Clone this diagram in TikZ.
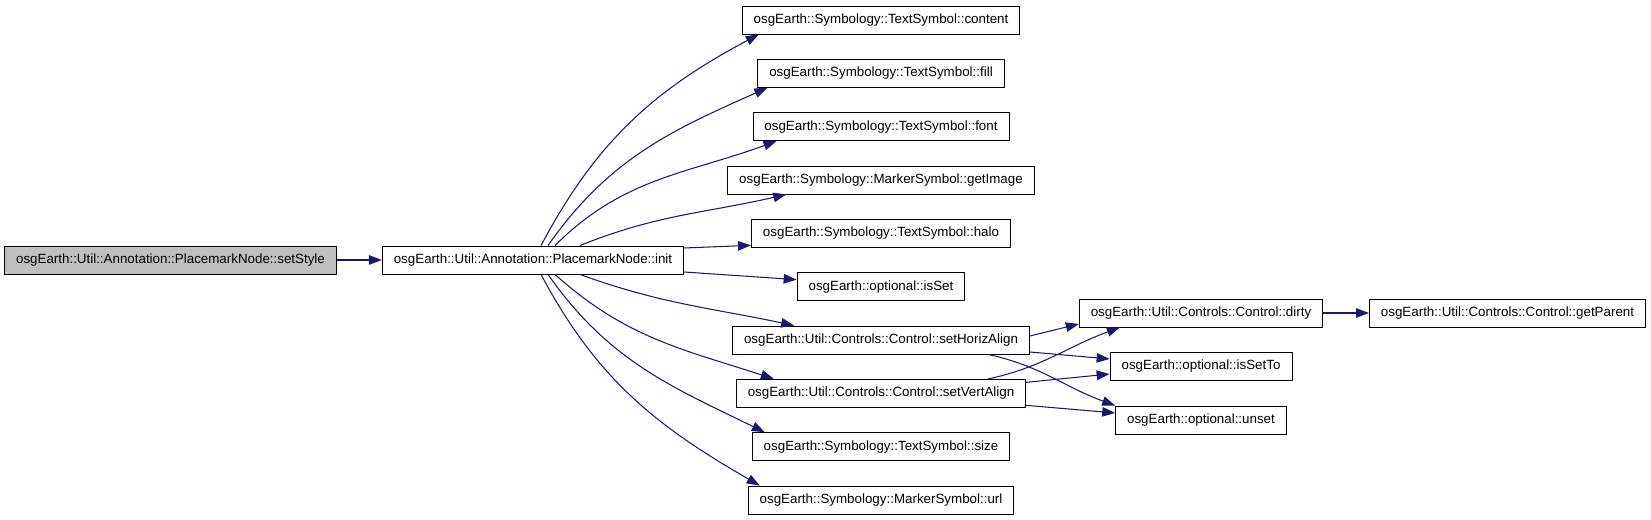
\documentclass[tikz,border=0pt]{standalone}
\usepackage{fontspec}
\setmainfont{Liberation Sans}
\usetikzlibrary{arrows.meta, positioning, calc}
\definecolor{edgeblue}{HTML}{191970}
\definecolor{callergray}{HTML}{BFBFBF}

\begin{document}
\begin{tikzpicture}[>={Triangle[length=2.6mm, width=1.9mm]},
    fn/.style={draw, line width=0.5pt, minimum height=0.56cm, inner xsep=0.23cm,
               inner ysep=0pt, font=\fontsize{7.6}{9}\selectfont},
    edge/.style={->, draw=edgeblue, line width=0.6pt}]
  \useasboundingbox (0,0) rectangle (33.02,10.4);

  % Caller and init
  \node[fn, fill=callergray] (setstyle) at (3.41, 5.2)
    {osgEarth::Util::Annotation::PlacemarkNode::setStyle};
  \node[fn] (init) at (10.66, 5.2) {osgEarth::Util::Annotation::PlacemarkNode::init};

  % Callees of init (one column)
  \foreach \n/\t [count=\k from 0] in {
      content/{osgEarth::Symbology::TextSymbol::content},
      fillsym/{osgEarth::Symbology::TextSymbol::fill},
      fontsym/{osgEarth::Symbology::TextSymbol::font},
      getimage/{osgEarth::Symbology::MarkerSymbol::getImage},
      halo/{osgEarth::Symbology::TextSymbol::halo},
      isset/{osgEarth::optional::isSet},
      horiz/{osgEarth::Util::Controls::Control::setHorizAlign},
      vert/{osgEarth::Util::Controls::Control::setVertAlign},
      sizesym/{osgEarth::Symbology::TextSymbol::size},
      urlsym/{osgEarth::Symbology::MarkerSymbol::url}} {
    \node[fn] (\n) at (17.62, 10.0-\k*1.0667) {\t};
  }

  % Second level
  \node[fn] (dirty) at (24.02, 4.14) {osgEarth::Util::Controls::Control::dirty};
  \node[fn] (getparent) at (30.15, 4.14) {osgEarth::Util::Controls::Control::getParent};
  \node[fn] (issetto) at (24.02, 3.07) {osgEarth::optional::isSetTo};
  \node[fn] (unset) at (24.02, 2.00) {osgEarth::optional::unset};

  \draw[edge] (setstyle) -- (init);

  % init -> upper callees
  \draw[edge] ($(init.north)+(0.16,0)$) to[out=62, in=208]
    ($(content.south west)+(0.34,0)$);
  \draw[edge] ($(init.north)+(0.30,0)$) to[out=55, in=204]
    ($(fillsym.south west)+(0.20,0)$);
  \draw[edge] ($(init.north)+(0.44,0)$) to[out=45, in=200]
    ($(fontsym.south west)+(0.48,0)$);
  \draw[edge] ($(init.north)+(0.94,0)$) to[out=22, in=193]
    ($(getimage.south west)+(1.18,0)$);
  \draw[edge] ($(init.east)+(0,0.24)$) -- ($(halo.west)+(0,-0.24)$);
  \draw[edge] ($(init.east)+(0,-0.24)$) -- ($(isset.west)+(0,0.14)$);

  % init -> lower callees
  \draw[edge] ($(init.south)+(0.94,0)$) to[out=-20, in=168]
    ($(horiz.north west)+(1.24,0)$);
  \draw[edge] ($(init.south)+(0.44,0)$) to[out=-42, in=162]
    ($(vert.north west)+(0.76,0)$);
  \draw[edge] ($(init.south)+(0.30,0)$) to[out=-55, in=154]
    ($(sizesym.north west)+(0.26,0)$);
  \draw[edge] ($(init.south)+(0.16,0)$) to[out=-62, in=150]
    ($(urlsym.north west)+(0.24,0)$);

  % Align setters
  \draw[edge] ($(horiz.east)+(0,0.08)$) -- ($(dirty.west)+(0,-0.22)$);
  \draw[edge] ($(horiz.east)+(0,-0.24)$) -- ($(issetto.west)+(0,0.15)$);
  \draw[edge] ($(horiz.south east)+(-0.84,0)$) to[out=-12, in=160] (unset.north west);
  \draw[edge] ($(vert.north east)+(-0.76,0)$) to[out=12, in=200]
    ($(dirty.south west)+(0.82,0)$);
  \draw[edge] ($(vert.east)+(0,0.22)$) -- ($(issetto.west)+(0,-0.15)$);
  \draw[edge] ($(vert.east)+(0,-0.24)$) -- ($(unset.west)+(0,0.14)$);

  \draw[edge] (dirty) -- (getparent);
\end{tikzpicture}
\end{document}
